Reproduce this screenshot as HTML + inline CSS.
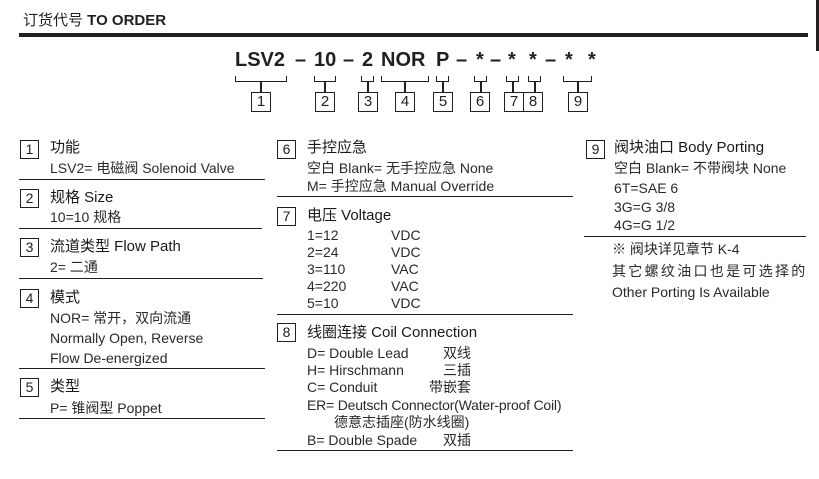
<!DOCTYPE html>
<html><head><meta charset="utf-8"><style>
body{margin:0;width:819px;height:479px;background:#fff;position:relative;overflow:hidden;font-family:"Liberation Sans","Noto Sans CJK SC",sans-serif;color:#231f20}
.t{position:absolute;white-space:nowrap;line-height:16px;font-size:14px;color:#2a2a2a}
.h{font-size:15px;color:#1a1a1a}
.b{position:absolute;border:1px solid #231f20;width:17px;height:17px;font-size:14px;line-height:17px;text-align:center;box-sizing:content-box}
.l{position:absolute;height:1px;background:#231f20}
.c{position:absolute;font-weight:bold;font-size:20px;line-height:20px;top:50px;color:#231f20}
.bk{position:absolute;border:1.5px solid #231f20;border-top:none;height:6px;top:76px;box-sizing:border-box}
.st{position:absolute;width:1.5px;background:#231f20;top:82px;height:11px}
.nb{position:absolute;border:1px solid #231f20;width:18px;height:18px;top:92px;font-size:15px;line-height:18px;text-align:center}
</style></head><body>
<div class="t" style="left:23px;top:12px;font-size:15px;line-height:18px;color:#231f20">订货代号 <b>TO ORDER</b></div>
<div style="position:absolute;left:19px;top:33px;width:789px;height:4px;background:#231f20"></div>
<div style="position:absolute;left:816px;top:0;width:3px;height:51px;background:#231f20"></div>

<div class="c" style="left:235px">LSV2</div>
<div class="c" style="left:295px">–</div>
<div class="c" style="left:314px">10</div>
<div class="c" style="left:343px">–</div>
<div class="c" style="left:362px">2</div>
<div class="c" style="left:381px">NOR</div>
<div class="c" style="left:436px">P</div>
<div class="c" style="left:456px">–</div>
<div class="c" style="left:476px">*</div>
<div class="c" style="left:490px">–</div>
<div class="c" style="left:508px">*</div>
<div class="c" style="left:529px">*</div>
<div class="c" style="left:545px">–</div>
<div class="c" style="left:565px">*</div>
<div class="c" style="left:588px">*</div>

<div class="bk" style="left:235px;width:52px"></div><div class="st" style="left:260px"></div><div class="nb" style="left:251px">1</div>
<div class="bk" style="left:314px;width:22px"></div><div class="st" style="left:324px"></div><div class="nb" style="left:315px">2</div>
<div class="bk" style="left:361px;width:13px"></div><div class="st" style="left:367px"></div><div class="nb" style="left:358px">3</div>
<div class="bk" style="left:381px;width:48px"></div><div class="st" style="left:404px"></div><div class="nb" style="left:395px">4</div>
<div class="bk" style="left:436px;width:13px"></div><div class="st" style="left:442px"></div><div class="nb" style="left:433px">5</div>
<div class="bk" style="left:474px;width:13px"></div><div class="st" style="left:480px"></div><div class="nb" style="left:470px">6</div>
<div class="bk" style="left:506px;width:13px"></div><div class="st" style="left:512px"></div><div class="nb" style="left:504px">7</div>
<div class="bk" style="left:528px;width:13px"></div><div class="st" style="left:534px"></div><div class="nb" style="left:523px">8</div>
<div class="bk" style="left:563px;width:29px"></div><div class="st" style="left:577px"></div><div class="nb" style="left:568px">9</div>

<!-- left column -->
<div class="b" style="left:20px;top:140px">1</div>
<div class="t h" style="left:50px;top:140px">功能</div>
<div class="t" style="left:50px;top:160px">LSV2= 电磁阀 Solenoid Valve</div>
<div class="l" style="left:19px;top:179px;width:246px"></div>
<div class="b" style="left:20px;top:189px">2</div>
<div class="t h" style="left:50px;top:190px">规格 Size</div>
<div class="t" style="left:50px;top:209px">10=10 规格</div>
<div class="l" style="left:19px;top:228px;width:243px"></div>
<div class="b" style="left:20px;top:238px">3</div>
<div class="t h" style="left:50px;top:239px">流道类型 Flow Path</div>
<div class="t" style="left:50px;top:259px">2= 二通</div>
<div class="l" style="left:19px;top:278px;width:244px"></div>
<div class="b" style="left:20px;top:289px">4</div>
<div class="t h" style="left:50px;top:290px">模式</div>
<div class="t" style="left:50px;top:310px">NOR= 常开，双向流通</div>
<div class="t" style="left:50px;top:330px">Normally Open, Reverse</div>
<div class="t" style="left:50px;top:350px">Flow De-energized</div>
<div class="l" style="left:19px;top:368px;width:246px"></div>
<div class="b" style="left:20px;top:378px">5</div>
<div class="t h" style="left:50px;top:379px">类型</div>
<div class="t" style="left:50px;top:400px">P= 锥阀型 Poppet</div>
<div class="l" style="left:19px;top:418px;width:246px"></div>

<!-- middle -->
<div class="b" style="left:277px;top:140px">6</div>
<div class="t h" style="left:307px;top:140px">手控应急</div>
<div class="t" style="left:307px;top:160px">空白 Blank= 无手控应急 None</div>
<div class="t" style="left:307px;top:178px">M= 手控应急 Manual Override</div>
<div class="l" style="left:277px;top:196px;width:296px"></div>
<div class="b" style="left:277px;top:207px">7</div>
<div class="t h" style="left:307px;top:208px">电压 Voltage</div>
<div class="t" style="left:307px;top:227px">1=12</div><div class="t" style="left:391px;top:227px">VDC</div>
<div class="t" style="left:307px;top:244px">2=24</div><div class="t" style="left:391px;top:244px">VDC</div>
<div class="t" style="left:307px;top:261px">3=110</div><div class="t" style="left:391px;top:261px">VAC</div>
<div class="t" style="left:307px;top:278px">4=220</div><div class="t" style="left:391px;top:278px">VAC</div>
<div class="t" style="left:307px;top:295px">5=10</div><div class="t" style="left:391px;top:295px">VDC</div>
<div class="l" style="left:277px;top:314px;width:296px"></div>
<div class="b" style="left:277px;top:323px">8</div>
<div class="t h" style="left:307px;top:325px">线圈连接 Coil Connection</div>
<div class="t" style="left:307px;top:345px">D= Double Lead</div><div class="t" style="left:443px;top:345px">双线</div>
<div class="t" style="left:307px;top:362px">H= Hirschmann</div><div class="t" style="left:443px;top:362px">三插</div>
<div class="t" style="left:307px;top:379px">C= Conduit</div><div class="t" style="left:429px;top:379px">带嵌套</div>
<div class="t" style="left:307px;top:397px;letter-spacing:-0.2px">ER= Deutsch Connector(Water-proof Coil)</div>
<div class="t" style="left:334px;top:414px">德意志插座(防水线圈)</div>
<div class="t" style="left:307px;top:432px">B= Double Spade</div><div class="t" style="left:443px;top:432px">双插</div>
<div class="l" style="left:277px;top:450px;width:296px"></div>

<!-- right -->
<div class="b" style="left:586px;top:140px">9</div>
<div class="t h" style="left:614px;top:140px">阀块油口 Body Porting</div>
<div class="t" style="left:614px;top:160px">空白 Blank= 不带阀块 None</div>
<div class="t" style="left:614px;top:180px">6T=SAE 6</div>
<div class="t" style="left:614px;top:199px">3G=G 3/8</div>
<div class="t" style="left:614px;top:217px">4G=G 1/2</div>
<div class="l" style="left:584px;top:236px;width:222px"></div>
<div class="t" style="left:612px;top:241px">※ 阀块详见章节 K-4</div>
<div class="t" style="left:612px;top:263px;letter-spacing:2.3px">其它螺纹油口也是可选择的</div>
<div class="t" style="left:612px;top:284px">Other Porting Is Available</div>
</body></html>
